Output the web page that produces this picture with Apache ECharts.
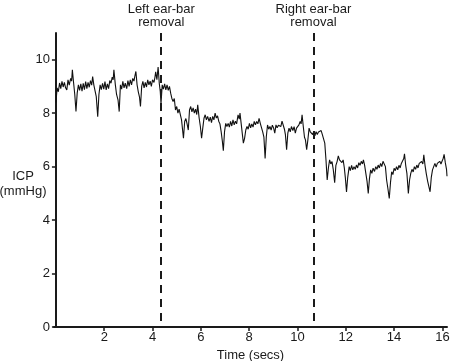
<!DOCTYPE html>
<html>
<head>
<meta charset="utf-8">
<script src="https://cdn.jsdelivr.net/npm/echarts@6/dist/echarts.min.js"></script>
<style>
  html, body { margin: 0; padding: 0; background: #fff; }
  #chart { width: 450px; height: 361px; }
</style>
</head>
<body>
<div id="chart"></div>
<script>
// ICP trace, [time (secs), ICP (mmHg)]
const icpBaseline = [
  [0.00, 8.40], [0.05, 8.95], [0.10, 8.80], [0.15, 9.13], [0.20, 8.92], [0.25, 9.19], [0.30, 8.98], [0.35, 9.15],
  [0.40, 8.95], [0.45, 8.87], [0.50, 9.25], [0.55, 9.05], [0.61, 9.30], [0.65, 9.20], [0.68, 9.62], [0.73, 9.15],
  [0.78, 8.70], [0.83, 8.06], [0.88, 8.75], [0.93, 9.06], [0.98, 8.85], [1.03, 9.10], [1.08, 8.82], [1.13, 9.12],
  [1.18, 8.88], [1.23, 9.18], [1.28, 8.92], [1.33, 9.15], [1.38, 8.97], [1.43, 9.22], [1.48, 9.05], [1.52, 9.37],
  [1.57, 9.05], [1.62, 9.10], [1.67, 8.62], [1.73, 7.87], [1.78, 8.70], [1.83, 9.06], [1.88, 8.88], [1.93, 9.12],
  [1.98, 8.90], [2.03, 9.18], [2.08, 8.87], [2.13, 9.10], [2.18, 8.92], [2.23, 9.22], [2.28, 9.12], [2.33, 9.35],
  [2.37, 9.25], [2.40, 9.62], [2.46, 9.06], [2.51, 8.70], [2.57, 8.50], [2.62, 8.06], [2.67, 9.06], [2.72, 8.90],
  [2.77, 9.19], [2.82, 8.95], [2.87, 9.12], [2.93, 8.92], [2.98, 9.22], [3.03, 9.00], [3.08, 9.25], [3.13, 9.06],
  [3.18, 9.30], [3.23, 9.20], [3.27, 9.40], [3.31, 9.56], [3.36, 9.06], [3.41, 8.80], [3.46, 8.60], [3.50, 8.25],
  [3.55, 9.00], [3.60, 9.19], [3.65, 8.95], [3.70, 9.15], [3.75, 8.98], [3.80, 9.25], [3.85, 9.06], [3.90, 9.20],
  [3.95, 9.00], [4.00, 9.25], [4.06, 9.15], [4.10, 9.35], [4.13, 9.55], [4.18, 9.25], [4.23, 9.73], [4.28, 9.10],
  [4.32, 8.80]
]
const icpAfterLeft = [
  [4.35, 8.35], [4.40, 9.06], [4.45, 8.90], [4.50, 9.10], [4.55, 8.87], [4.60, 9.06], [4.65, 8.85], [4.70, 9.00],
  [4.75, 8.75], [4.80, 8.55], [4.85, 8.44], [4.90, 8.55], [4.95, 8.12], [5.00, 8.25], [5.05, 8.00], [5.10, 8.15],
  [5.15, 7.95], [5.20, 7.75], [5.28, 7.06], [5.33, 7.69], [5.38, 7.80], [5.43, 7.60], [5.48, 7.37], [5.53, 8.12],
  [5.58, 8.25], [5.63, 8.05], [5.68, 8.20], [5.73, 8.00], [5.78, 8.15], [5.83, 7.95], [5.87, 8.31], [5.93, 7.81],
  [5.98, 7.50], [6.03, 7.06], [6.08, 7.45], [6.13, 7.81], [6.18, 7.94], [6.23, 7.75], [6.28, 7.88], [6.34, 7.69],
  [6.39, 7.85], [6.44, 7.65], [6.49, 7.88], [6.54, 7.75], [6.59, 8.00], [6.64, 7.82], [6.69, 7.90], [6.74, 7.70],
  [6.79, 7.60], [6.84, 7.31], [6.89, 6.95], [6.93, 6.60], [6.98, 7.31], [7.03, 7.62], [7.08, 7.50], [7.13, 7.62],
  [7.18, 7.48], [7.23, 7.69], [7.28, 7.52], [7.33, 7.75], [7.38, 7.56], [7.43, 7.70], [7.48, 7.60], [7.54, 7.94],
  [7.59, 7.78], [7.62, 8.00], [7.67, 7.60], [7.72, 7.20], [7.76, 6.88], [7.81, 7.06], [7.86, 7.37], [7.91, 7.50],
  [7.96, 7.40], [8.01, 7.62], [8.06, 7.45], [8.11, 7.60], [8.16, 7.48], [8.21, 7.69], [8.26, 7.56], [8.31, 7.69],
  [8.36, 7.60], [8.41, 7.81], [8.46, 7.62], [8.51, 7.60], [8.56, 7.30], [8.61, 7.10], [8.66, 6.31], [8.71, 7.12],
  [8.76, 7.56], [8.81, 7.40], [8.86, 7.50], [8.91, 7.37], [8.96, 7.55], [9.01, 7.45], [9.06, 7.25], [9.11, 7.56],
  [9.16, 7.45], [9.21, 7.55], [9.26, 7.62], [9.31, 7.50], [9.36, 7.70], [9.41, 7.75], [9.46, 7.40], [9.50, 7.20],
  [9.55, 6.63], [9.60, 7.25], [9.65, 7.44], [9.70, 7.30], [9.75, 7.50], [9.81, 7.35], [9.86, 7.50], [9.91, 7.25],
  [9.96, 7.44], [10.01, 7.38], [10.06, 7.56], [10.11, 7.69], [10.15, 7.60], [10.19, 7.94], [10.24, 7.50], [10.29, 7.10],
  [10.33, 7.00], [10.38, 6.63], [10.43, 7.00], [10.48, 7.44], [10.53, 7.30], [10.58, 7.37], [10.63, 7.20]
]
const icpAfterRight = [
  [10.67, 7.31], [10.72, 7.15], [10.77, 7.31], [10.82, 7.20], [10.87, 7.30], [10.93, 7.25], [10.98, 7.35], [11.03, 7.20],
  [11.08, 7.25], [11.13, 6.88], [11.18, 6.25], [11.23, 5.50], [11.28, 5.95], [11.33, 6.25], [11.38, 6.10], [11.43, 6.19],
  [11.48, 5.90], [11.54, 5.40], [11.59, 6.05], [11.64, 6.19], [11.69, 6.40], [11.74, 6.25], [11.79, 6.31], [11.84, 6.15],
  [11.89, 6.25], [11.94, 5.95], [11.98, 5.60], [12.03, 5.05], [12.08, 5.60], [12.14, 6.00], [12.19, 5.85], [12.24, 6.05],
  [12.29, 5.88], [12.34, 6.00], [12.39, 5.90], [12.44, 6.06], [12.49, 5.95], [12.54, 6.15], [12.59, 6.05], [12.64, 6.20],
  [12.69, 6.10], [12.73, 6.25], [12.78, 6.05], [12.83, 5.75], [12.88, 5.45], [12.93, 5.00], [12.98, 5.55], [13.03, 5.88],
  [13.08, 5.75], [13.13, 5.94], [13.19, 5.82], [13.24, 6.00], [13.29, 5.90], [13.34, 6.06], [13.39, 5.95], [13.44, 6.12],
  [13.49, 6.00], [13.54, 6.20], [13.59, 6.25], [13.64, 6.00], [13.69, 5.50], [13.74, 5.20], [13.80, 4.81], [13.85, 5.40],
  [13.90, 5.81], [13.95, 5.70], [14.00, 5.94], [14.05, 5.85], [14.10, 6.00], [14.15, 5.88], [14.20, 6.05], [14.25, 5.95],
  [14.30, 6.12], [14.36, 6.05], [14.40, 6.30], [14.43, 6.48], [14.48, 6.05], [14.53, 5.75], [14.59, 5.00], [14.64, 5.50],
  [14.69, 5.75], [14.74, 5.90], [14.79, 5.80], [14.84, 6.00], [14.89, 5.90], [14.94, 6.06], [14.99, 5.95], [15.04, 6.12],
  [15.09, 6.05], [15.14, 6.19], [15.19, 6.10], [15.23, 6.44], [15.28, 6.05], [15.33, 5.75], [15.39, 5.45], [15.49, 5.06],
  [15.54, 5.60], [15.59, 5.88], [15.64, 6.00], [15.69, 6.12], [15.74, 5.98], [15.79, 6.12], [15.84, 6.05], [15.89, 6.20],
  [15.94, 6.10], [15.98, 6.19], [16.03, 6.30], [16.07, 6.46], [16.12, 6.15], [16.17, 5.90], [16.19, 5.64]
]

// ear-bar removal events
const eventTimes = [4.36, 10.66]
const eventLabels = ['Left ear-bar\nremoval', 'Right ear-bar\nremoval']

const xTicks = [2, 4, 6, 8, 10, 12, 14, 16]
const yTicks = [0, 2, 4, 6, 8, 10]
const yTitle = ['ICP', '(mmHg)']

const font = 'Liberation Sans, Arial, Helvetica, sans-serif'
const ink = '#1a1a1a'

const chart = echarts.init(document.getElementById('chart'))

chart.setOption({
  animation: false,
  grid: {
    left: 54,
    right: 3,
    top: 33,
    bottom: 34,
    containLabel: false,
    outerBoundsMode: 'none',
  },
  graphic: yTitle.map((line, i) => ({
    type: 'text',
    x: 23,
    y: 176 + i * 15,
    silent: true,
    style: {
      text: line,
      fontFamily: font,
      fontSize: 13,
      fill: ink,
      align: 'center',
      verticalAlign: 'middle',
    },
  })),
  xAxis: {
    type: 'value',
    min: -0.08,
    max: 16.19,
    name: 'Time (secs)',
    nameLocation: 'middle',
    nameGap: 20,
    nameTextStyle: { fontFamily: font, fontSize: 13, color: ink },
    axisLine: { lineStyle: { color: ink, width: 2 } },
    axisTick: { customValues: xTicks, length: 4, lineStyle: { color: ink, width: 1.5 } },
    axisLabel: { customValues: xTicks, margin: 4, fontFamily: font, fontSize: 13, color: ink },
    splitLine: { show: false },
  },
  yAxis: {
    type: 'value',
    min: 0,
    max: 11,
    axisLine: { show: true, lineStyle: { color: ink, width: 2 } },
    axisTick: { show: true, customValues: yTicks, length: 4, lineStyle: { color: ink, width: 1.5 } },
    axisLabel: { customValues: yTicks, margin: 4, fontFamily: font, fontSize: 13, color: ink },
    splitLine: { show: false },
  },
  series: [{
    name: 'ICP',
    type: 'line',
    showSymbol: false,
    data: icpBaseline.concat(icpAfterLeft, icpAfterRight),
    lineStyle: { color: '#111', width: 1.1 },
    markLine: {
      silent: true,
      symbol: ['none', 'none'],
      lineStyle: { color: ink, width: 2, type: [8, 6] },
      label: {
        show: true,
        position: 'start',
        distance: 4,
        formatter: '{b}',
        fontFamily: font,
        fontSize: 13,
        lineHeight: 13,
        color: ink,
      },
      data: eventTimes.map((t, i) => [
        { name: eventLabels[i], coord: [t, 11] },
        { coord: [t, 0.2] },
      ]),
    },
  }],
})
</script>
</body>
</html>
